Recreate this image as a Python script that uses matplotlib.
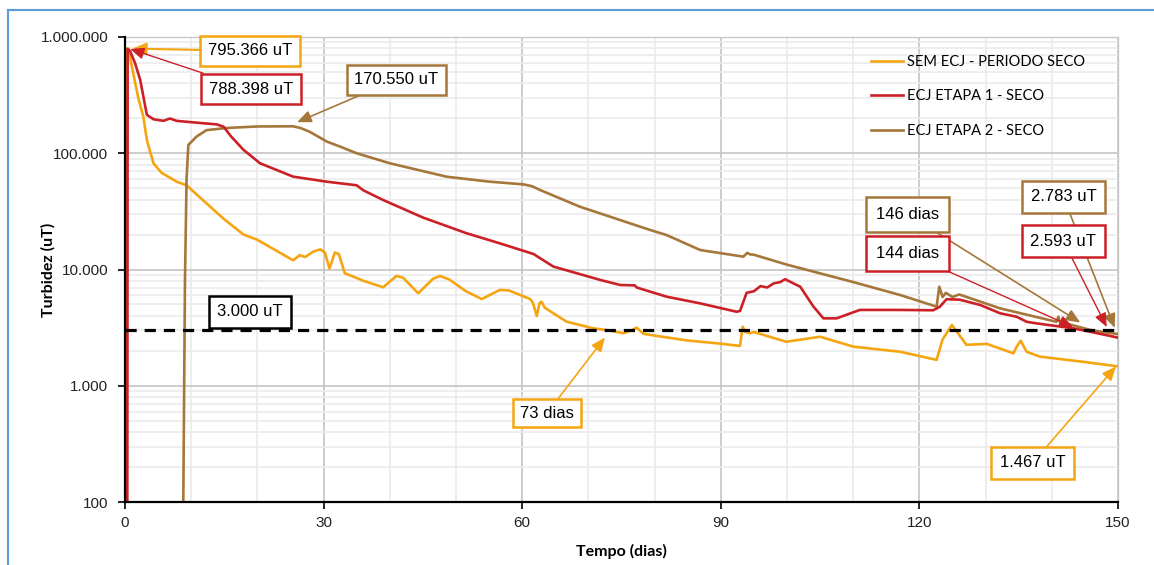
import numpy as np
import matplotlib
matplotlib.use('Agg')
import matplotlib.pyplot as plt
from matplotlib.ticker import FixedLocator, FuncFormatter, LogLocator, NullFormatter
from matplotlib.lines import Line2D

plt.rcParams['font.family'] = ['Liberation Sans', 'DejaVu Sans']

# dados (tempo em dias, turbidez em uT)
t_sem = [0.15, 0.2, 0.5, 1.2, 2.0, 2.77, 3.3, 4.3, 5.5, 7.8, 9.3, 12.8, 15, 17.9, 20, 25.4, 26.4,
         27.2, 28.5, 29.5, 30.2, 30.9, 31.7, 32.3, 33.2, 36, 39, 41, 42, 44.3, 46.5, 47.6, 49, 51.5,
         53.9, 56.6, 58, 61.2, 61.6, 62.2, 62.6, 62.9, 63.4, 64.7, 66.7, 70.7, 73, 75.3, 76.5, 77.3,
         78.3, 80, 85, 90, 92.9, 93.3, 93.7, 94.4, 95, 99.9, 105, 110, 117.1, 122.6, 123.5, 124.9,
         125.5, 127.1, 130.2, 134.2, 134.7, 135.3, 136.2, 138.2, 145, 150]
v_sem = [90, 795366, 795366, 500000, 300000, 206000, 130000, 82000, 68000, 57000, 53000, 35000,
         27000, 20000, 18000, 12000, 13300, 12800, 14300, 14900, 14000, 10200, 14000, 13600, 9300,
         8000, 7030, 8800, 8500, 6240, 8300, 8800, 8200, 6500, 5570, 6670, 6600, 5570, 5200, 3980,
         5100, 5290, 4700, 4200, 3560, 3120, 3000, 2830, 3000, 3160, 2800, 2700, 2450, 2300, 2200,
         3220, 2900, 2830, 2900, 2390, 2640, 2170, 1960, 1670, 2500, 3330, 3000, 2250, 2290, 1900,
         2170, 2440, 1960, 1780, 1600, 1467]

t_et1 = [0.35, 0.4, 0.75, 1.5, 2.3, 3.3, 4.3, 5.8, 6.8, 7.8, 10, 13.9, 14.9, 16, 17.9, 20.4, 25.4,
         30.5, 35, 36, 39, 45, 51.6, 56.6, 61.7, 64.7, 71.8, 74.8, 77, 77.3, 81.8, 86.9, 92.4, 92.9,
         93.9, 95, 96, 97, 98, 99, 99.7, 102, 104, 105.5, 107.5, 111, 117, 122.1, 123.1, 124.1,
         126.1, 129.2, 132.2, 134.7, 136.2, 137.7, 143.2, 146, 150]
v_et1 = [90, 788398, 760000, 600000, 427000, 214000, 196000, 190000, 199000, 190000, 185000,
         177000, 169000, 140000, 107000, 82000, 62900, 56900, 53000, 48000, 39600, 28000, 20500,
         16800, 13600, 10600, 8130, 7360, 7300, 7000, 5840, 5110, 4330, 4400, 6300, 6500, 7200,
         7000, 7600, 7800, 8250, 7110, 4790, 3800, 3800, 4490, 4490, 4460, 4790, 5550, 5500, 4950,
         4200, 3920, 3550, 3440, 3120, 2900, 2593]

t_et2 = [8.8, 9.06, 9.3, 9.57, 10.8, 12.3, 15.4, 20, 25.4, 26.5, 27.9, 30.5, 32.5, 35, 40, 48.6, 55,
         60.2, 61.5, 62.7, 68.7, 79.3, 81.8, 86.9, 93.4, 94, 94.4, 95, 100, 110, 117.1, 122.6, 123,
         123.5, 124, 125, 126, 127, 132.2, 140.7, 141, 141.2, 146, 150]
v_et2 = [90, 8100, 60000, 118000, 139000, 158000, 165000, 170000, 170550, 165000, 153000, 126000,
         114000, 100000, 82000, 62800, 57000, 54000, 52000, 48300, 34700, 21900, 19800, 14700,
         12900, 13900, 13500, 13400, 11000, 7800, 6030, 4790, 7110, 5800, 6300, 5800, 6100, 5840,
         4630, 3550, 3920, 3550, 3000, 2783]

limite = 3000
legendas = ['SEM ECJ - PERIODO SECO', 'ECJ ETAPA 1 - SECO', 'ECJ ETAPA 2 - SECO']

c_sem = '#F5A511'
c_et1 = '#CC2027'
c_et2 = '#A5773A'

fig = plt.figure(figsize=(11.54, 5.65), dpi=100)
ax = fig.add_axes([125/1154, 63/565, 993/1154, 465/565])

ax.plot(t_sem, v_sem, color=c_sem, lw=1.9, label=legendas[0], zorder=3)
ax.plot(t_et1, v_et1, color=c_et1, lw=1.9, label=legendas[1], zorder=4)
ax.plot(t_et2, v_et2, color=c_et2, lw=1.9, label=legendas[2], zorder=3)
ax.axhline(limite, color='black', lw=2.3, ls=(0, (3.5, 2.5)), zorder=5)

ax.set_yscale('log')
ax.set_xlim(0, 150)
ax.set_ylim(100, 1000000)
ax.xaxis.set_major_locator(FixedLocator([0, 30, 60, 90, 120, 150]))
ax.xaxis.set_minor_locator(FixedLocator(np.arange(10, 150, 10)))
ax.yaxis.set_major_locator(LogLocator(base=10, numticks=10))
ax.yaxis.set_minor_locator(LogLocator(base=10, subs=np.arange(2, 10), numticks=20))
ax.yaxis.set_minor_formatter(NullFormatter())
ax.yaxis.set_major_formatter(FuncFormatter(lambda v, p: f"{int(round(v)):,}".replace(',', '.')))

ax.grid(which='major', color='#C4C4C4', lw=1.2, zorder=0)
ax.grid(which='minor', color='#EBEBEB', lw=1.2, zorder=0)
ax.set_axisbelow(True)

for s in ['top', 'right']:
    ax.spines[s].set_color('#C8C8C8')
    ax.spines[s].set_linewidth(1.0)
for s in ['left', 'bottom']:
    ax.spines[s].set_color('black')
    ax.spines[s].set_linewidth(1.6)
    ax.spines[s].set_zorder(6)

ax.tick_params(which='major', direction='out', length=5, width=1.2, labelsize=11,
               colors='black', labelcolor='#222222')
ax.tick_params(axis='y', which='major', pad=7)
ax.tick_params(axis='x', which='major', pad=5)
ax.tick_params(which='minor', length=0)

ax.set_xlabel('Tempo (dias)', fontsize=11.5, fontweight='bold', family='Lato')
ax.set_ylabel('Turbidez (uT)', fontsize=11.5, fontweight='bold', family='Lato')
ax.xaxis.set_label_coords(0.5, -0.09)
ax.yaxis.set_label_coords(-0.07, 0.5)

leg = ax.legend(loc='upper left', bbox_to_anchor=(0.738, 0.99), frameon=False,
                handlelength=2.2, handletextpad=0.3, labelspacing=1.4,
                prop={'family': 'Lato', 'size': 10.5})

# caixas de texto com setas
notas = [
    ('795.366 uT', (0.126, 0.970), (1.1, 795366), c_sem, 1.5, 0.45),
    ('788.398 uT', (0.127, 0.888), (0.8, 788398), c_et1, 1.0, 0.45),
    ('170.550 uT', (0.273, 0.908), (26, 185000), c_et2, 1.2, 0.45),
    ('3.000 uT', (0.126, 0.409), None, 'black', 0, 0.5),
    ('73 dias', (0.425, 0.191), (72.5, 2600), c_sem, 1.2, 0.4),
    ('146 dias', (0.788, 0.619), (144.3, 3500), c_et2, 1.2, 0.6),
    ('144 dias', (0.788, 0.535), (143.2, 3200), c_et1, 1.0, 0.6),
    ('2.783 uT', (0.945, 0.656), (149.5, 3150), c_et2, 1.2, 0.5),
    ('2.593 uT', (0.945, 0.561), (148.3, 3200), c_et1, 1.0, 0.5),
    ('1.467 uT', (0.914, 0.084), (149.7, 1467), c_sem, 1.2, 0.5),
]
for txt, pos, tip, cor, lw, pad in notas:
    box = dict(boxstyle=f'square,pad={pad}', fc='white', ec=cor, lw=1.8)
    if tip is None:
        ax.text(pos[0], pos[1], txt, transform=ax.transAxes, ha='center', va='center',
                fontsize=12, bbox=box, zorder=7)
        continue
    ax.annotate(txt, xy=tip, xycoords='data', xytext=pos, textcoords='axes fraction',
                ha='center', va='center', fontsize=12, bbox=box, zorder=7,
                arrowprops=dict(arrowstyle='-|>,head_length=0.42,head_width=0.18', color=cor,
                                lw=lw, shrinkA=0, shrinkB=0, mutation_scale=20))

# moldura azul
fig.add_artist(Line2D([8/1154, 8/1154], [0, 1 - 10/565], color='#5B9BD5', lw=1.5))
fig.add_artist(Line2D([8/1154, 1], [1 - 10/565, 1 - 10/565], color='#5B9BD5', lw=1.5))

fig.savefig('out.png', dpi=100)
